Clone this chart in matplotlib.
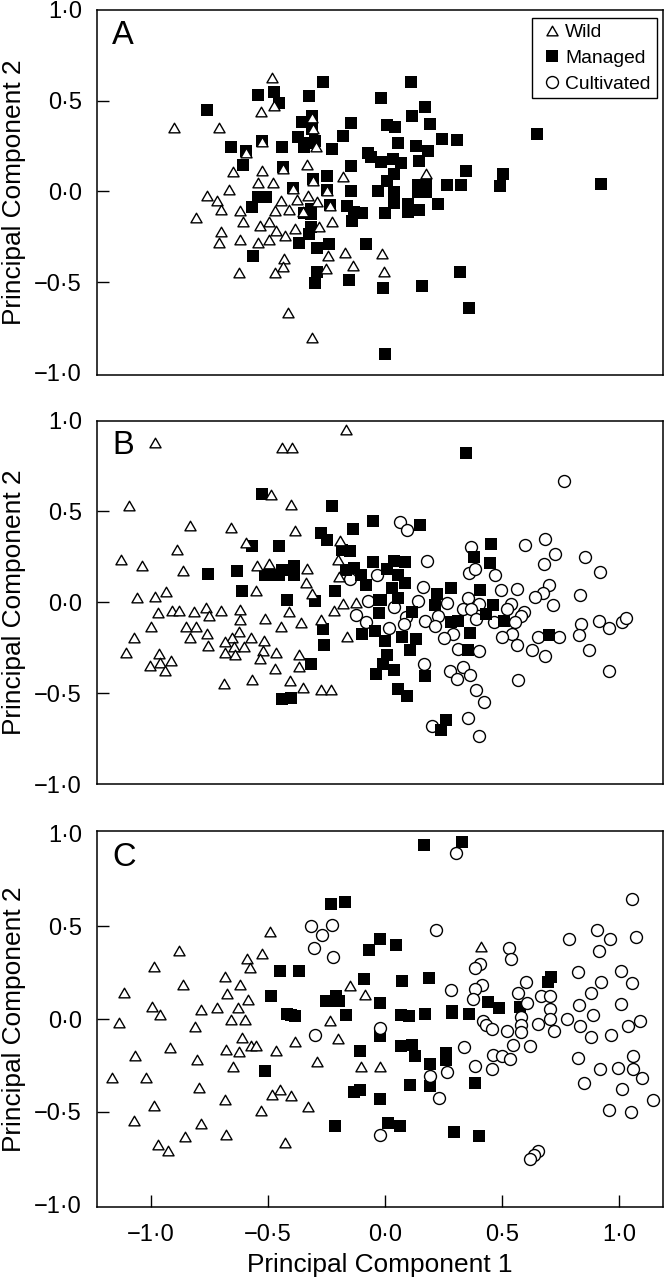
#! /bin/python3

import matplotlib
matplotlib.use("Agg")
import matplotlib.pyplot as plt
from matplotlib.lines import Line2D
from matplotlib.path import Path

plt.rcParams['font.family'] = ['Liberation Sans', 'DejaVu Sans']

a_wild_x = [-.485, -.901, -.708, -.529, -.473, -.311, -.310, -.526, -.596, -.296, -.333, -.437, -.650, -.525,
            -.542, -.478, -.307, -.181, -.665, -.395, -.249, -.759, -.719, -.701, -.445, -.375, -.328, -.289,
            -.237, -.621, -.471, -.411, -.350, -.808, -.609, -.498, -.536, -.227, -.466, -.387, -.283, -.701,
            -.620, -.710, -.545, -.496, -.427, -.246, -.173, -.432, -.437, -.471, -.626, -.252, -.138, -.417,
            -.314, .175, -.014, -.005]
a_wild_y = [.623, .348, .352, .436, .473, .407, .342, .271, .209, .242, .147, .123, .106, .114,
            .048, .048, .059, .077, .009, .011, .004, -.027, -.055, -.103, -.051, -.048, -.024, -.057,
            -.079, -.110, -.108, -.104, -.114, -.147, -.170, -.170, -.190, -.167, -.218, -.207, -.198, -.222,
            -.266, -.286, -.286, -.271, -.245, -.357, -.341, -.372, -.418, -.451, -.451, -.429, -.414, -.670,
            -.808, .095, -.344, -.445]
a_managed_x = [-.761, -.543, -.476, -.454, -.324, -.266, -.355, -.311, -.145, -.179, -.373, -.311, -.347, -.326,
               -.301, -.657, -.596, -.526, -.442, -.229, -.607, -.437, -.146, -.250, -.307, -.395, -.247, -.145,
               -.542, -.510, -.570, -.236, -.161, -.318, -.347, -.318, -.134, -.098, -.141, -.318, -.326, -.370,
               -.289, -.239, -.080, -.566, -.293, -.299, -.156, -.071, -.060,
               .110, -.017, .170, .114, .008, .043, .190, .242, .306, .056, .131, .183, .648, .033, -.019, .067,
               .143, .040, .346, .502, .009, .140, .175, .266, .326, .490, .923, -.031, .040, .140, .175, .037,
               .097, .228, .144, .097, -.002, .319, .156, -.009, .359, .000]
a_managed_y = [.451, .533, .549, .489, .526, .601, .385, .416, .375, .306, .300, .342, .245, .269,
               .278, .244, .220, .280, .242, .234, .147, .132, .141, .086, .066, .020, .007, .002,
               -.031, -.031, -.084, -.073, -.082, -.097, -.119, -.125, -.115, -.119, -.161, -.198, -.234, -.286,
               -.315, -.288, -.293, -.359, -.447, -.505, -.491, .214, .187,
               .601, .513, .467, .418, .366, .357, .370, .288, .284, .264, .249, .223, .315, .176, .161, .154,
               .168, .095, .110, .093, .059, .037, .037, .035, .035, .027, .038, .004, -.005, -.005, -.005, -.066,
               -.070, -.068, -.101, -.112, -.121, -.447, -.520, -.535, -.643, -.896]

b_wild_x = [-.983, -.441, -.398, -.169, -.488, -1.096, -.400, -.835, -.658, -.385, -.594, -.193, -.887, -1.130,
            -1.037, -.863, -.549, -.495, -.333, -.202, -.198, -.338, -.937, -1.062, -.983, -.553, -.314, -.181,
            -.126, -.971, -.911, -.879, -.815, -.764, -.754, -.700, -.620, -.620, -.513, -.409, -.220, -.274,
            -.999, -.852, -.810, -.446, -.358, -1.071, -.835, -.762, -.624, -.655, -.573, -.682, -.519, -.161,
            -1.108, -.965, -.758, -.644, -.601, -.684, -.643, -.522, -.465, -.370, -.914, -.963, -1.005, -.941,
            -.535, -.370, -.471, -.687, -.567, -.407, -.351, -.273, -.233]
b_wild_y = [.874, .846, .850, .949, .588, .531, .535, .419, .410, .390, .324, .335, .288, .231,
            .201, .170, .201, .211, .185, .231, .139, .106, .057, .024, .031, .060, .046, -.009,
            -.004, -.060, -.048, -.046, -.053, -.029, -.075, -.046, -.040, -.095, -.092, -.051, -.046, -.095,
            -.136, -.137, -.136, -.136, -.115, -.196, -.196, -.176, -.165, -.194, -.198, -.220, -.211, -.189,
            -.278, -.284, -.238, -.244, -.244, -.277, -.288, -.266, -.280, -.291, -.321, -.337, -.353, -.377,
            -.311, -.355, -.370, -.451, -.430, -.436, -.474, -.485, -.484]
b_managed_x = [-.526, -.227, -.051, -.136, -.276, -.250, -.570, -.454, -.183, -.148, -.053, -.131, -.169, -.102,
               -.082, -.758, -.634, -.513, -.478, -.454, -.439, -.390, -.390, -.613, -.216, -.418, -.299, -.027,
               -.026, -.266, -.098, -.044, -.259, -.318, -.439, -.404, -.041,
               .345, .151, .451, .379, .447, .040, .083, .006, .055, .083, .029, .283, .407, .221, .055, -.017,
               .215, .463, .114, .431, .282, .311, .510, .363, .702, .070, -.002, .133, .106, .356, .008, -.007,
               .040, .171, .057, .092, .261, .238]
b_managed_y = [.593, .527, .447, .405, .381, .342, .310, .308, .289, .280, .222, .190, .179, .152,
               .093, .156, .170, .148, .148, .148, .179, .201, .148, .060, .060, .013, .005, .011,
               -.060, -.148, -.172, -.159, -.233, -.342, -.531, -.527, -.397,
               .821, .423, .321, .249, .216, .229, .222, .185, .152, .106, .079, .077, .068, .048, .024, .015,
               -.013, -.013, -.053, -.062, -.108, -.104, -.104, -.170, -.179, -.192, -.214, -.201, -.264, -.260,
               -.288, -.339, -.372, -.407, -.480, -.516, -.646, -.703]
b_cultivated_x = [.063, .094, .764, .365, .599, .684, .724, .178, .677, .854, .916, .360, .384, .468, -.035,
                  .161, .493, .564, .700, .676, .639, .832, .140, .265, .355, .400, .719, .537, .521, .333,
                  .367, .040, .595, .581, .225, .089, .389, .171, .080, .214, .467, .557, .837, .915, .955,
                  1.010, 1.029, .018, .289, .252, .541, .500, .830, .655, .741, .565, .313, .399, .626, .871,
                  .682, .168, .958, .278, .332, .308, .363, .569, .389, .421, .200, .356, .400,
                  -.072, -.126, -.081, -.151]
b_cultivated_y = [.440, .397, .668, .304, .317, .348, .266, .229, .211, .251, .165, .163, .181, .152, .148,
                  .082, .068, .071, .097, .053, .031, .040, .005, -.005, .024, -.009, -.015, -.009, -.035, -.037,
                  -.037, -.026, -.051, -.077, -.075, -.081, -.093, -.101, -.119, -.128, -.110, -.110, -.121, -.101, -.143,
                  -.108, -.086, -.143, -.174, -.198, -.174, -.189, -.179, -.192, -.192, -.236, -.255, -.269, -.260, -.260,
                  -.295, -.339, -.379, -.381, -.357, -.425, -.403, -.429, -.482, -.548, -.679, -.637, -.734,
                  .005, -.068, -.108, .128]

c_wild_x = [-.491, -.879, -.525, -.590, -.988, -.579, -.863, -.683, -.620, -.149, -1.115, -.674, -.087, -.586,
            -.995, -.960, -.788, -.717, -.630, -1.138, -.812, -.660, -.597, -.237, -.611, -.202, -.920, -.573,
            -.550, -.387, -.678, -.626, -.465, -1.068, -.802, -.290, -.648, -.102, -.021, -1.166, -1.021, -.796,
            -.449, -.485, -.402, -.685, -.988, -.529, -.328, -1.071, -.788, -.681, -.857, -.970, -.926, -.427, .409]
c_wild_y = [.468, .369, .351, .322, .279, .273, .183, .225, .182, .180, .142, .135, .131, .101,
            .067, .022, .049, .058, .058, -.023, -.041, -.005, -.005, -.013, -.104, -.110, -.158, -.146,
            -.146, -.126, -.169, -.178, -.174, -.200, -.221, -.232, -.259, -.257, -.259, -.317, -.320, -.371,
            -.385, -.410, -.417, -.437, -.468, -.496, -.477, -.549, -.567, -.626, -.637, -.680, -.714, -.667, .388]
c_managed_x = [-.230, -.171, -.024, -.067, -.448, -.370, -.091, -.488, -.208, -.254, -.198, -.226, -.421, -.404,
               -.385, -.169, -.024, -.024, -.107, -.513, -.107, -.134, -.213, -.024,
               .165, .330, .045, .070, .187, .696, .709, .441, .485, .578, .066, .100, .171, .286, .286, .359,
               .066, .116, .126, .262, .262, .190, .107, .190, .383, .012, .062, .293, .400]
c_managed_y = [.621, .631, .432, .372, .259, .257, .218, .126, .126, .099, .099, .099, .027, .020,
               .014, .023, .086, -.092, -.171, -.282, -.381, -.396, -.576, -.430,
               .941, .957, .399, .203, .223, .201, .225, .090, .058, .067, .023, .016, .029, .041, .031, .029,
               -.144, -.142, -.200, -.182, -.221, -.245, -.358, -.362, -.345, -.559, -.576, -.612, -.631]
c_cultivated_x = [-.317, -.229, -.270, -.303, -.222, -.299,
                  1.053, .217, .906, .785, .960, 1.071, .302, .915, .531, .539, .406, .382, .825, 1.006, .603,
                  .922, 1.053, .414, .382, .281, .569, .879, .374, .666, .704, .606, .830, 1.006, .704, .886,
                  .582, .706, .775, 1.088, .417, .652, .431, .457, .581, 1.039, .834, .521, .582, .723, .967,
                  .881, -.024, .339, .545, .618, .460, .498, .535, .825, 1.057, .382, .456, .264, .918, .995,
                  1.057, .191, 1.097, .848, 1.010, .229, 1.144, .955, 1.049, -.024, .655, .638, .619]
c_cultivated_y = [.504, .509, .453, .381, .335, -.088,
                  .646, .478, .480, .432, .430, .442, .896, .367, .381, .326, .295, .277, .255, .261, .201,
                  .198, .194, .182, .160, .155, .142, .138, .106, .122, .122, .085, .074, .079, .052, .023,
                  .013, .002, .002, -.009, -.009, -.025, -.031, -.052, -.031, -.038, -.036, -.063, -.072, -.067, -.086,
                  -.099, -.050, -.149, -.140, -.147, -.194, -.200, -.216, -.210, -.198, -.254, -.272, -.284, -.268, -.264,
                  -.268, -.308, -.320, -.347, -.379, -.426, -.437, -.493, -.500, -.626, -.710, -.732, -.755]

y_ticks = [-1.0, -0.5, 0.0, 0.5, 1.0]
y_tick_labels = ['\u22121\u00b70', '\u22120\u00b75', '0\u00b70', '0\u00b75', '1\u00b70']
x_ticks = [-1.0, -0.5, 0.0, 0.5, 1.0]
x_tick_labels = ['\u22121\u00b70', '\u22120\u00b75', '0\u00b70', '0\u00b75', '1\u00b70']

# flatter than the built-in '^', close to equilateral
triangle = Path([(-1, -.78), (1, -.78), (0, .95), (-1, -.78)], closed=True)

wild_style = dict(marker=triangle, ms=8.0, mfc='white', mec='black', mew=1.0, ls='none')
managed_style = dict(marker='s', ms=8.8, mfc='black', mec='black', mew=0, ls='none')
cultivated_style = dict(marker='o', ms=8.6, mfc='white', mec='black', mew=1.0, ls='none')


def make_panel(rect, ylim, letter, wild, managed, cultivated=None, circles_on_top=False):
    """Draws one principal component panel, rect is left, bottom, width, height in figure fractions."""
    ax = fig.add_axes(rect)
    ax.set_xlim(-1.233, 1.185)
    ax.set_ylim(*ylim)
    ax.plot(wild[0], wild[1], zorder=5, **wild_style)
    ax.plot(managed[0], managed[1], zorder=3, **managed_style)
    if cultivated is not None:
        ax.plot(cultivated[0], cultivated[1], zorder=4 if circles_on_top else 2, **cultivated_style)
    ax.set_yticks(y_ticks)
    ax.set_yticklabels(y_tick_labels)
    ax.tick_params(axis='y', direction='in', length=8.5, width=1, labelsize=17, pad=10.5)
    ax.set_xticks([])
    # the ticks at the ends of the axis fall on the frame
    for tick in [ax.yaxis.get_major_ticks()[0], ax.yaxis.get_major_ticks()[-1]]:
        tick.tick1line.set_visible(False)
    for spine in ax.spines.values():
        spine.set_linewidth(1.1)
    ax.set_ylabel('Principal Component 2', fontsize=18.9)
    ax.yaxis.set_label_coords(-0.124, 0.5)
    ax.text(0.028, 0.907, letter, transform=ax.transAxes, fontsize=23.5, va='baseline', ha='left')
    return ax


W = 664.0
H = 1280.0
fig = plt.figure(figsize=(W / 100, H / 100), dpi=100)

ax_a = make_panel([96.5 / W, 1 - 374.5 / H, 566 / W, 364.5 / H], (-1.01, 1.0), 'A',
                  (a_wild_x, a_wild_y), (a_managed_x, a_managed_y))
ax_b = make_panel([96.5 / W, 1 - 784 / H, 566 / W, 363.5 / H], (-1.0, 1.0), 'B',
                  (b_wild_x, b_wild_y), (b_managed_x, b_managed_y), (b_cultivated_x, b_cultivated_y))
ax_c = make_panel([96.5 / W, 1 - 1206.5 / H, 566 / W, 375.5 / H], (-1.012, 1.015), 'C',
                  (c_wild_x, c_wild_y), (c_managed_x, c_managed_y), (c_cultivated_x, c_cultivated_y), True)

ax_c.set_xticks(x_ticks)
ax_c.set_xticklabels(x_tick_labels)
ax_c.tick_params(axis='x', direction='in', length=8.5, width=1, labelsize=17, pad=12.5)
ax_c.set_xlabel('Principal Component 1', fontsize=18.9, labelpad=5)

handles = [Line2D([], [], label='Wild', **wild_style),
           Line2D([], [], label='Managed', **managed_style),
           Line2D([], [], label='Cultivated', **cultivated_style)]
legend = ax_a.legend(handles=handles, loc='upper right', bbox_to_anchor=(0.9894, 0.978), borderaxespad=0,
                     fontsize=13.9, fancybox=False, framealpha=1, edgecolor='black', borderpad=0.3,
                     handlelength=1.47, handletextpad=-0.06, labelspacing=0.42)
legend.get_frame().set_linewidth(1.0)
legend.set_zorder(10)

plt.savefig('out.png', dpi=100)
